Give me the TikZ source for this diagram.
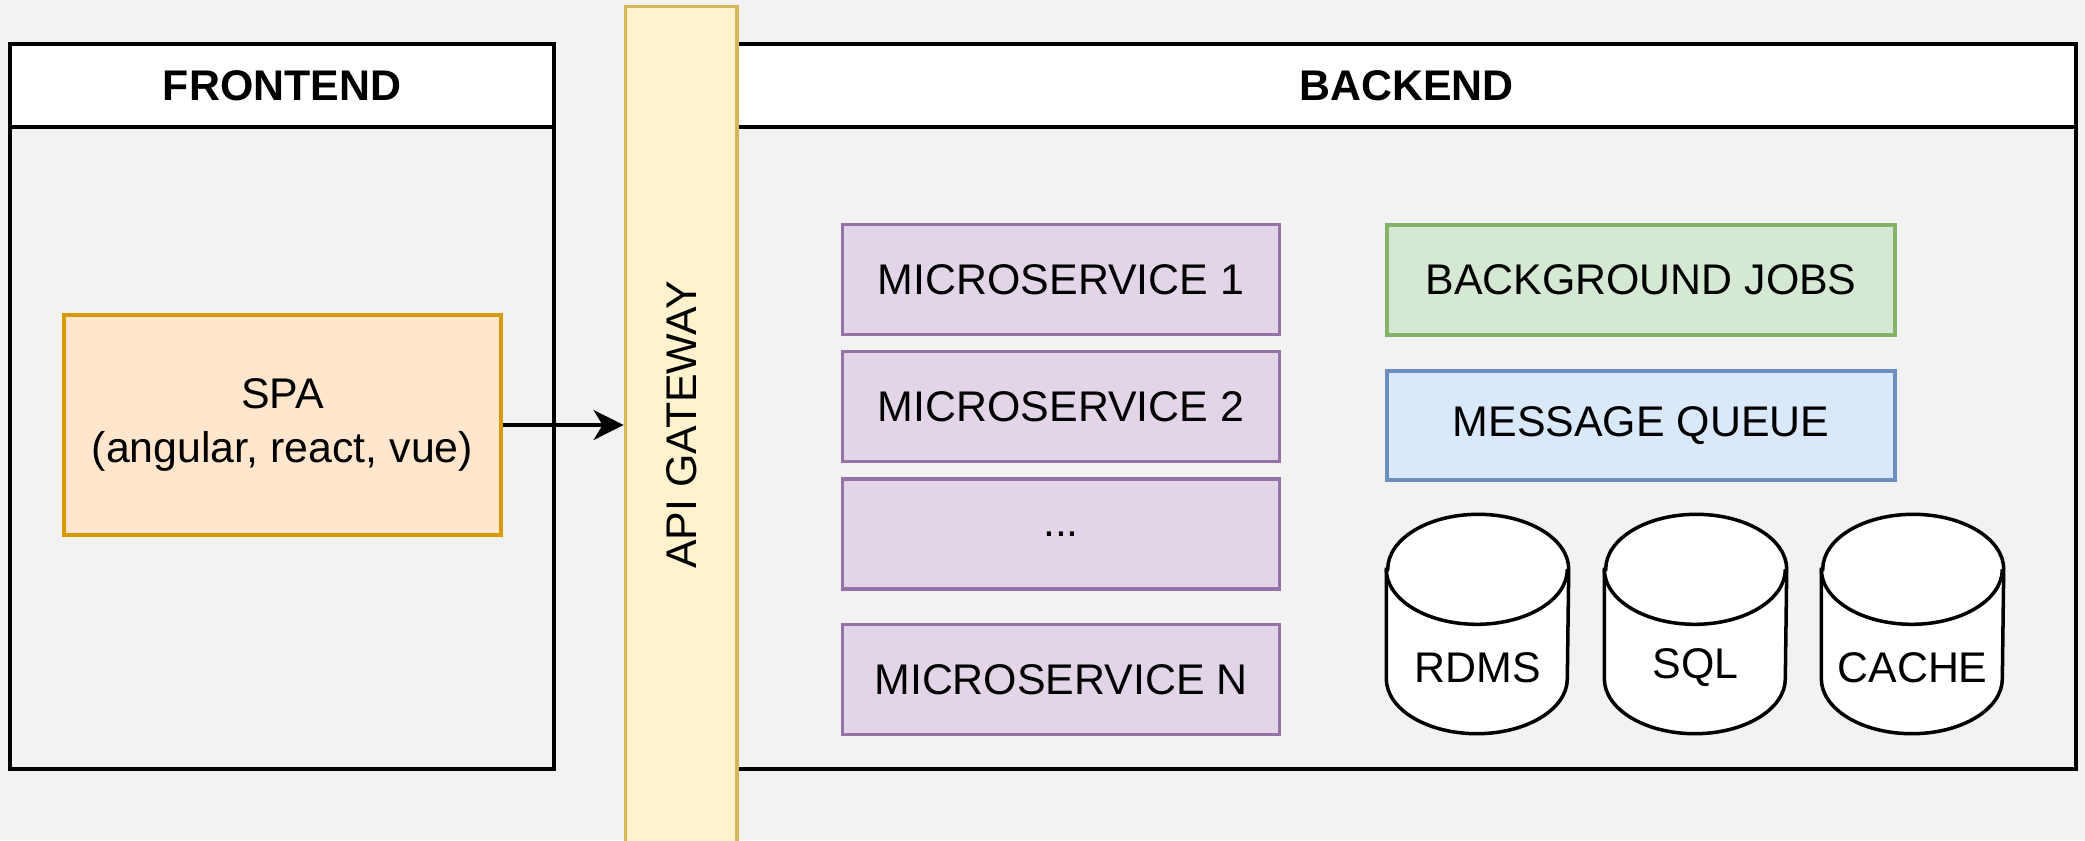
\documentclass[tikz,border=0pt]{standalone}
\usepackage{fontspec}
\setmainfont{Liberation Sans}
\usepackage{xcolor}
\usetikzlibrary{arrows.meta}
\definecolor{bggray}{HTML}{F2F2F2}
\definecolor{gatefill}{HTML}{FFF2CC}
\definecolor{gateline}{HTML}{D6B656}
\definecolor{spafill}{HTML}{FFE6CC}
\definecolor{spaline}{HTML}{D79B00}
\definecolor{msfill}{HTML}{E1D5E7}
\definecolor{msline}{HTML}{9673A6}
\definecolor{jobfill}{HTML}{D5E8D4}
\definecolor{jobline}{HTML}{82B366}
\definecolor{queuefill}{HTML}{DAE8FC}
\definecolor{queueline}{HTML}{6C8EBF}

\begin{document}
\begin{tikzpicture}[font=\fontsize{12.2pt}{15.5pt}\selectfont]
\tikzset{>={Stealth[width=3mm,length=3mm,inset=0.9mm]}}
\tikzstyle{lane} =[draw=black,line width=1.1pt,inner sep=0pt,minimum height=7.25cm]
\tikzstyle{lanehead} =[draw=black,fill=white,line width=1.1pt,inner sep=0pt,minimum height=0.83cm,font=\fontsize{12.2pt}{15.5pt}\selectfont\bfseries]
\tikzstyle{box} =[draw,line width=1.1pt,inner sep=0pt,align=center]
\tikzstyle{service} =[box,fill=msfill,draw=msline,minimum width=4.37cm,minimum height=1.1cm]
\tikzstyle{wide} =[box,minimum width=5.08cm,minimum height=1.1cm]
\tikzstyle{dbshape} =[inner sep=0pt,minimum width=1.81cm,minimum height=2.18cm]
\tikzstyle{dbline} =[draw=black,fill=white,line width=1pt]

\path[use as bounding box,fill=bggray] (0,0) rectangle (20.85,-8.4);

% containers
\node[lane,minimum width=5.44cm](front) at (2.82,-4.065){};
\node[lanehead,minimum width=5.44cm](fronthead) at (2.82,-0.855){FRONTEND};
\node[lane,minimum width=13.39cm](back) at (14.065,-4.065){};
\node[lanehead,minimum width=13.39cm](backhead) at (14.065,-0.855){BACKEND};

\node[box,fill=spafill,draw=spaline,minimum width=4.37cm,minimum height=2.2cm](spa) at (2.825,-4.25){SPA\\(angular, react, vue)};

\node[box,fill=gatefill,draw=gateline,rotate=90,minimum width=8.37cm,minimum height=1.115cm](gateway) at (6.8125,-4.25){API GATEWAY};

% services
\node[service](ms1) at (10.61,-2.795){MICROSERVICE 1};
\node[service](ms2) at (10.61,-4.065){MICROSERVICE 2};
\node[service](msdots) at (10.61,-5.34){...};
\node[service](msn) at (10.61,-6.795){MICROSERVICE N};

\node[wide,fill=jobfill,draw=jobline](jobs) at (16.41,-2.8){BACKGROUND JOBS};
\node[wide,fill=queuefill,draw=queueline,minimum height=1.09cm](queue) at (16.41,-4.255){MESSAGE QUEUE};

% storage
\foreach \n/\x/\t in {rdms/14.775/RDMS,sql/16.955/SQL,cache/19.125/CACHE}{
  \node[dbshape](\n) at (\x,-6.24){};
  \draw[dbline] ([yshift=-5.5mm]\n.north west) -- ([yshift=5.5mm]\n.south west)
    arc[start angle=180,end angle=360,x radius=9.05mm,y radius=5.5mm]
    -- ([yshift=-5.5mm]\n.north east)
    arc[start angle=0,end angle=180,x radius=9.05mm,y radius=5.5mm] -- cycle;
  \draw[line width=1pt] ([yshift=-5.5mm]\n.north west) arc[start angle=180,end angle=360,x radius=9.05mm,y radius=5.5mm];
  \node(\n text) at ([yshift=-4.4mm]\n.center){\t};
}

\draw [->,line width=1pt] (spa) -- (gateway);
\end{tikzpicture}
\end{document}
